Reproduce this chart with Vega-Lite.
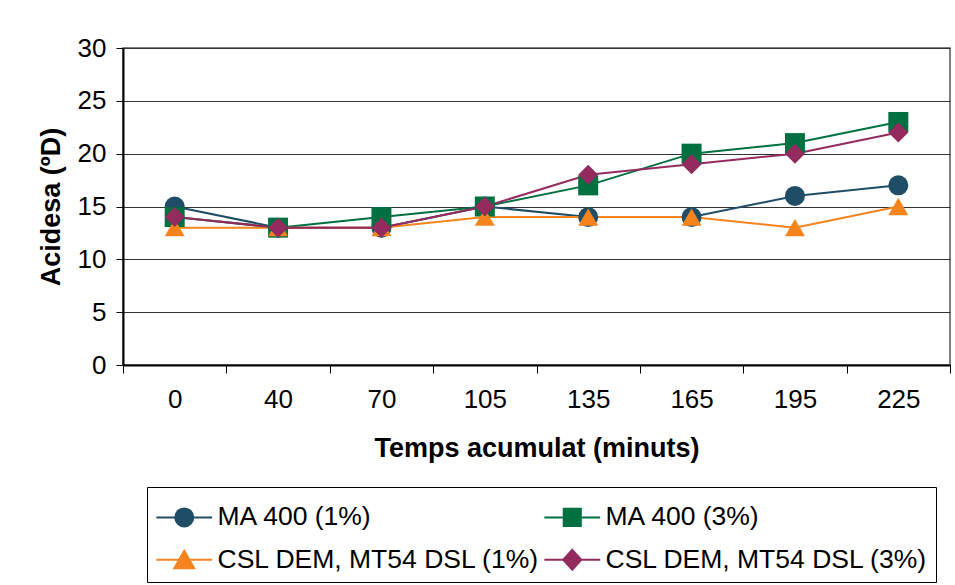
{
  "$schema": "https://vega.github.io/schema/vega-lite/v6.json",
  "width": 827,
  "height": 317,
  "autosize": {"type": "none"},
  "padding": {"left": 123, "top": 48, "right": 5, "bottom": 220},
  "background": "white",
  "config": {"font": "Liberation Sans", "view": {"stroke": "#555", "strokeWidth": 1.5}},
  "data": {"values": [
    {"t": 0, "s": "MA 400 (1%)", "v": 15}, {"t": 40, "s": "MA 400 (1%)", "v": 13}, {"t": 70, "s": "MA 400 (1%)", "v": 13}, {"t": 105, "s": "MA 400 (1%)", "v": 15},
    {"t": 135, "s": "MA 400 (1%)", "v": 14}, {"t": 165, "s": "MA 400 (1%)", "v": 14}, {"t": 195, "s": "MA 400 (1%)", "v": 16}, {"t": 225, "s": "MA 400 (1%)", "v": 17},
    {"t": 0, "s": "MA 400 (3%)", "v": 14}, {"t": 40, "s": "MA 400 (3%)", "v": 13}, {"t": 70, "s": "MA 400 (3%)", "v": 14}, {"t": 105, "s": "MA 400 (3%)", "v": 15},
    {"t": 135, "s": "MA 400 (3%)", "v": 17}, {"t": 165, "s": "MA 400 (3%)", "v": 20}, {"t": 195, "s": "MA 400 (3%)", "v": 21}, {"t": 225, "s": "MA 400 (3%)", "v": 23},
    {"t": 0, "s": "CSL DEM, MT54 DSL (1%)", "v": 13}, {"t": 40, "s": "CSL DEM, MT54 DSL (1%)", "v": 13}, {"t": 70, "s": "CSL DEM, MT54 DSL (1%)", "v": 13}, {"t": 105, "s": "CSL DEM, MT54 DSL (1%)", "v": 14},
    {"t": 135, "s": "CSL DEM, MT54 DSL (1%)", "v": 14}, {"t": 165, "s": "CSL DEM, MT54 DSL (1%)", "v": 14}, {"t": 195, "s": "CSL DEM, MT54 DSL (1%)", "v": 13}, {"t": 225, "s": "CSL DEM, MT54 DSL (1%)", "v": 15},
    {"t": 0, "s": "CSL DEM, MT54 DSL (3%)", "v": 14}, {"t": 40, "s": "CSL DEM, MT54 DSL (3%)", "v": 13}, {"t": 70, "s": "CSL DEM, MT54 DSL (3%)", "v": 13}, {"t": 105, "s": "CSL DEM, MT54 DSL (3%)", "v": 15},
    {"t": 135, "s": "CSL DEM, MT54 DSL (3%)", "v": 18}, {"t": 165, "s": "CSL DEM, MT54 DSL (3%)", "v": 19}, {"t": 195, "s": "CSL DEM, MT54 DSL (3%)", "v": 20}, {"t": 225, "s": "CSL DEM, MT54 DSL (3%)", "v": 22}
  ]},
  "encoding": {
    "x": {"field": "t", "type": "ordinal", "scale": {"type": "band", "paddingInner": 0, "paddingOuter": 0},
      "axis": {"title": "Temps acumulat (minuts)", "labelAngle": 0, "tickBand": "extent", "grid": false,
        "domainColor": "black", "domainWidth": 2, "tickColor": "black", "tickSize": 8, "tickWidth": 1,
        "labelFontSize": 26, "labelPadding": 13, "labelColor": "black",
        "titleFontSize": 27, "titleFontWeight": "bold", "titleColor": "black", "titlePadding": 23}},
    "y": {"field": "v", "type": "quantitative", "scale": {"domain": [0, 30]},
      "axis": {"title": "Acidesa (ºD)", "values": [0, 5, 10, 15, 20, 25, 30], "gridColor": "#333", "gridWidth": 1,
        "domainColor": "black", "domainWidth": 2, "tickColor": "black", "tickSize": 7,
        "labelFontSize": 26, "labelPadding": 10, "labelColor": "black",
        "titleFontSize": 27, "titleFontWeight": "bold", "titleColor": "black", "titlePadding": 12}}
  },
  "layer": [
    {"mark": {"type": "line", "strokeWidth": 2},
     "encoding": {
       "stroke": {"field": "s", "type": "nominal",
         "scale": {"domain": ["MA 400 (1%)", "MA 400 (3%)", "CSL DEM, MT54 DSL (1%)", "CSL DEM, MT54 DSL (3%)"],
                   "range": ["#204D66", "#007040", "#F5841F", "#932B5F"]},
         "legend": {"orient": "none", "legendX": 24, "legendY": 439, "columns": 2, "direction": "horizontal",
           "title": " ", "titleFontSize": 1, "titlePadding": 8,
           "symbolSize": 324, "symbolStrokeWidth": 2, "labelFontSize": 26.5, "labelFont": "Liberation Sans", "labelColor": "black",
           "labelOffset": 36, "labelLimit": 600, "strokeColor": "black", "fillColor": "white", "padding": 8,
           "rowPadding": 14.5, "columnPadding": 0,
           "encode": {"symbols": {"update": {
             "shape": {"signal": "datum.value === 'MA 400 (1%)' ? 'M-1.32,0H4.88M2.78,0A1,1 0 1,1 0.78,0A1,1 0 1,1 2.78,0Z' : datum.value === 'MA 400 (3%)' ? 'M-1.32,0H4.88M0.83,-0.95H2.73V0.95H0.83Z' : datum.value === 'CSL DEM, MT54 DSL (1%)' ? 'M-1.32,0H4.88M1.78,-1L2.88,0.95L0.68,0.95Z' : 'M-1.32,0H4.88M1.78,-1.1L2.78,0L1.78,1.1L0.78,0Z'"},
             "fill": {"signal": "scale('stroke', datum.value)"},
             "stroke": {"signal": "scale('stroke', datum.value)"},
             "strokeWidth": {"value": 2},
             "opacity": {"value": 1},
             "fillOpacity": {"value": 1}
           }}}}}
     }},
    {"transform": [{"filter": "datum.s === 'MA 400 (1%)'"}],
     "mark": {"type": "point", "filled": true, "size": 400, "opacity": 1, "shape": "circle", "color": "#204D66"}},
    {"transform": [{"filter": "datum.s === 'MA 400 (3%)'"}],
     "mark": {"type": "point", "filled": true, "size": 400, "opacity": 1, "shape": "square", "color": "#007040"}},
    {"transform": [{"filter": "datum.s === 'CSL DEM, MT54 DSL (1%)'"}],
     "mark": {"type": "point", "filled": true, "size": 400, "opacity": 1, "shape": "triangle-up", "color": "#F5841F"}},
    {"transform": [{"filter": "datum.s === 'CSL DEM, MT54 DSL (3%)'"}],
     "mark": {"type": "point", "filled": true, "size": 400, "opacity": 1, "shape": "diamond", "color": "#932B5F"}}
  ]
}
